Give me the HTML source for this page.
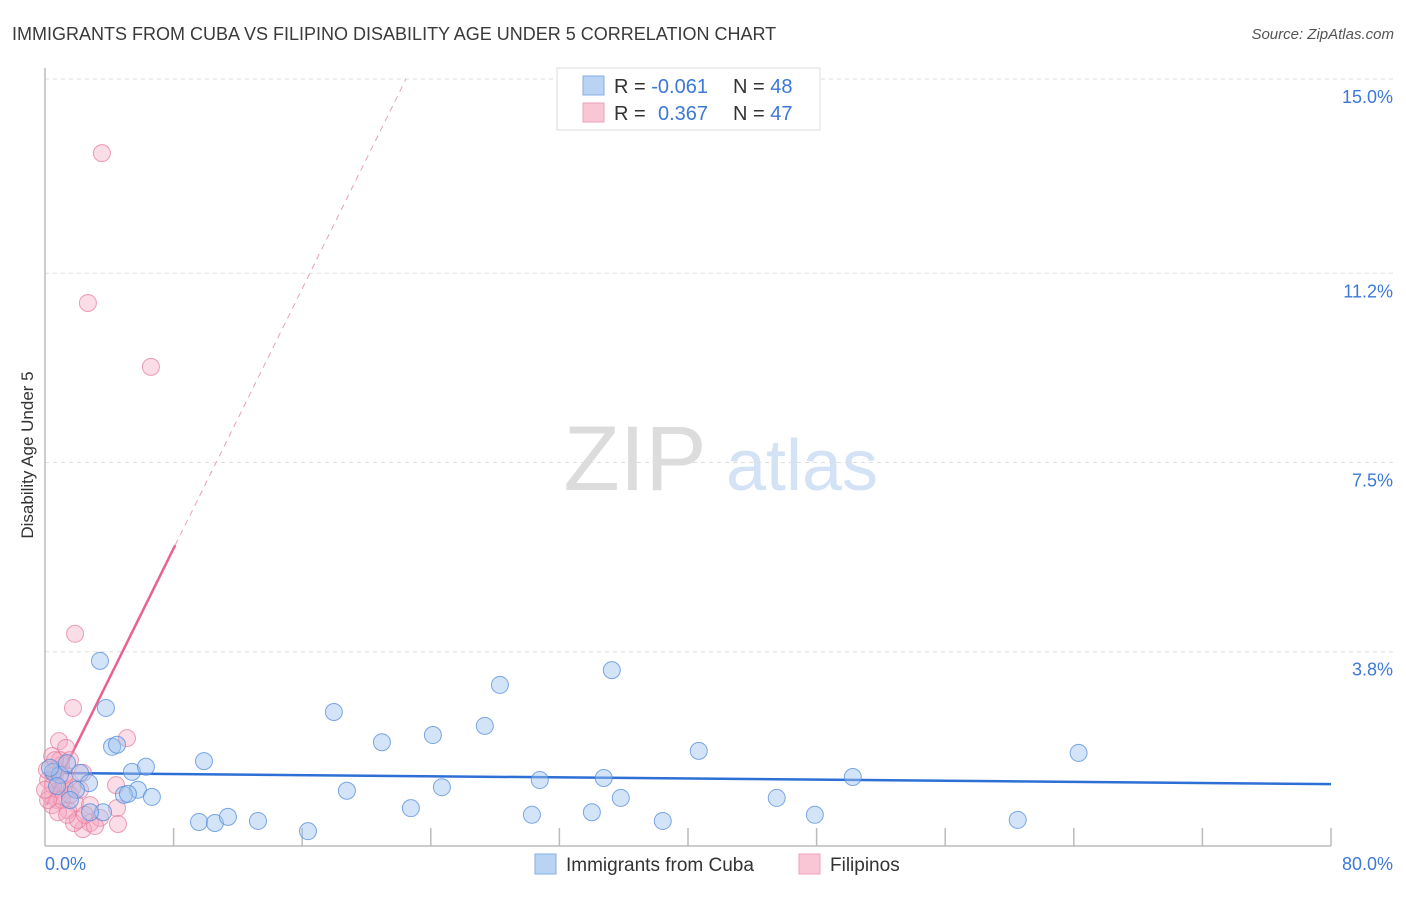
<!DOCTYPE html>
<html><head><meta charset="utf-8"><style>
body{margin:0;background:#fff;font-family:"Liberation Sans",sans-serif;}
svg text{font-family:"Liberation Sans",sans-serif;}
</style></head><body>
<svg id="chart" width="1406" height="892" xmlns="http://www.w3.org/2000/svg">
<text x="12" y="40" font-size="18" fill="#3a3a3a">IMMIGRANTS FROM CUBA VS FILIPINO DISABILITY AGE UNDER 5 CORRELATION CHART</text>
<text x="1394" y="39" font-size="15" fill="#555" text-anchor="end" font-style="italic">Source: ZipAtlas.com</text>
<text transform="translate(33,455) rotate(-90)" font-size="17" fill="#333" text-anchor="middle">Disability Age Under 5</text>
<g>
<text x="635" y="490" font-size="92" fill="#dcdcdc" text-anchor="middle" font-family="Liberation Serif">ZIP</text>
<text x="802" y="490" font-size="72" fill="#d3e2f5" text-anchor="middle">atlas</text>
</g>
<g id="grid"></g><g id="axes"></g><g id="trend"></g><g id="pts"></g>
<g>
<rect x="557" y="68" width="263" height="62" fill="#fff" stroke="#ddd"/>
<rect x="583" y="76" width="21" height="19" fill="#b9d3f5" stroke="#86aee6"/>
<rect x="583" y="103" width="21" height="19" fill="#f9c6d5" stroke="#eca2b9"/>
<text x="614" y="93" font-size="20" fill="#333">R = <tspan fill="#3c78d8">-0.061</tspan></text>
<text x="733" y="93" font-size="20" fill="#333">N = <tspan fill="#3c78d8">48</tspan></text>
<text x="614" y="120" font-size="20" fill="#333">R = <tspan fill="#3c78d8" x="658">0.367</tspan></text>
<text x="733" y="120" font-size="20" fill="#333">N = <tspan fill="#3c78d8">47</tspan></text>
</g>
<g>
<rect x="535" y="854" width="21" height="20" fill="#b9d3f5" stroke="#86aee6"/>
<text x="566" y="871" font-size="19" fill="#333">Immigrants from Cuba</text>
<rect x="799" y="854" width="21" height="20" fill="#f9c6d5" stroke="#eca2b9"/>
<text x="830" y="871" font-size="19" fill="#333">Filipinos</text>
</g>
</svg>
<script>
const yTicks=[3.8,7.5,11.2,15.0];
const yTickLabels=["3.8%","7.5%","11.2%","15.0%"];
const xTickLabels=["0.0%","80.0%"];
const blueX=[3.42,3.79,4.17,4.48,0.50,0.93,2.18,2.74,1.93,5.41,6.28,5.78,4.91,5.16,6.65,9.89,9.58,10.57,11.38,13.25,16.36,17.97,18.78,20.96,22.76,24.13,24.69,27.36,28.30,30.29,30.78,34.02,34.76,35.26,35.82,38.43,40.67,45.52,47.89,50.25,60.51,64.30,1.37,0.75,3.61,2.80,1.55,0.31];
const blueY=[3.62,2.70,1.94,1.98,1.45,1.39,1.43,1.23,1.10,1.45,1.55,1.10,1.00,1.02,0.96,1.66,0.47,0.45,0.57,0.49,0.29,2.62,1.08,2.03,0.74,2.17,1.15,2.35,3.15,0.61,1.29,0.66,1.33,3.44,0.94,0.49,1.86,0.94,0.61,1.35,0.51,1.82,1.62,1.17,0.66,0.66,0.90,1.53];
const pinkX=[3.54,2.67,6.59,1.87,1.74,5.10,0.87,1.31,0.44,1.00,1.55,0.62,0.19,0.93,0.31,1.31,0.75,1.87,1.43,2.80,2.36,4.42,4.48,4.54,2.80,2.36,1.80,0.44,1.18,1.68,0.68,0.12,1.06,2.05,3.42,3.11,0.19,0.81,2.49,1.55,0.50,1.24,2.18,0.93,0.00,1.37,0.62];
const pinkY=[13.55,10.62,9.37,4.15,2.70,2.11,2.05,1.92,1.76,1.58,1.68,1.39,1.29,1.10,1.00,1.10,0.90,0.84,0.70,0.80,1.43,1.19,0.74,0.43,0.45,0.33,0.45,0.80,1.25,1.13,1.49,1.49,0.90,0.51,0.55,0.39,0.90,0.66,0.61,1.00,1.19,1.39,1.10,1.68,1.10,0.61,1.68];
const blueTrend=[1.43,1.21];
const pinkTrend={start:0.74,slope:0.635};
const X0=45,X1=1331,Y0=846,Y15=79;
const sx=v=>X0+(X1-X0)*v/80;
const sy=v=>Y0-(Y0-Y15)*v/15;
const NS="http://www.w3.org/2000/svg";
function mk(tag,parent,attrs){const e=document.createElementNS(NS,tag);for(const k in attrs)e.setAttribute(k,attrs[k]);parent.appendChild(e);return e;}
const grid=document.getElementById('grid'),axes=document.getElementById('axes'),trend=document.getElementById('trend'),pts=document.getElementById('pts');
yTicks.forEach((t,i)=>{
 const l=mk('line',grid,{x1:X0,x2:1395,y1:sy(t),y2:sy(t),stroke:'#ddd','stroke-dasharray':'4,4'});
 
 
 const tx=mk('text',axes,{x:1393,y:sy(t)+24,'font-size':18,fill:'#3c78d8','text-anchor':'end'});
 tx.textContent=yTickLabels[i];
 
 
});
const ya=mk('line',axes,{x1:X0,x2:X0,y1:68,y2:Y0,stroke:'#bbb','stroke-width':1.5});


const xa=mk('line',axes,{x1:X0,x2:X1,y1:Y0,y2:Y0,stroke:'#bbb','stroke-width':1.5});


for(let i=1;i<=10;i++){
 const t=mk('line',axes,{x1:sx(i*8),x2:sx(i*8),y1:828,y2:Y0,stroke:'#bbb','stroke-width':1.5});
 
 
}
const xl0=mk('text',axes,{x:45,y:870,'font-size':18,fill:'#3c78d8'});xl0.textContent=xTickLabels[0];


const xl1=mk('text',axes,{x:1393,y:870,'font-size':18,fill:'#3c78d8','text-anchor':'end'});xl1.textContent=xTickLabels[1];


pinkX.forEach((x,i)=>{
 const c=mk('circle',pts,{cx:sx(x),cy:sy(pinkY[i]),r:8.5,fill:'rgba(244,170,194,0.4)',stroke:'rgba(230,120,155,0.7)','stroke-width':1});
 
 
});
blueX.forEach((x,i)=>{
 const c=mk('circle',pts,{cx:sx(x),cy:sy(blueY[i]),r:8.5,fill:'rgba(160,196,240,0.45)',stroke:'rgba(80,140,220,0.75)','stroke-width':1});
 
 
});
const bt=mk('line',trend,{x1:sx(0),y1:sy(blueTrend[0]),x2:sx(80),y2:sy(blueTrend[1]),stroke:'#2e6fd6','stroke-width':2.5});


const pEnd=8.1,pDash=(15-pinkTrend.start)/pinkTrend.slope;
const ps=mk('line',trend,{x1:sx(0.1),y1:sy(pinkTrend.start+0.1*pinkTrend.slope),x2:sx(pEnd),y2:sy(pinkTrend.start+pEnd*pinkTrend.slope),stroke:'#e8628f','stroke-width':2.5});


const pd=mk('line',trend,{x1:sx(pEnd),y1:sy(pinkTrend.start+pEnd*pinkTrend.slope),x2:sx(pDash),y2:sy(15),stroke:'#eaa0b8','stroke-width':1,'stroke-dasharray':'6,5'});


</script>
</body></html>
